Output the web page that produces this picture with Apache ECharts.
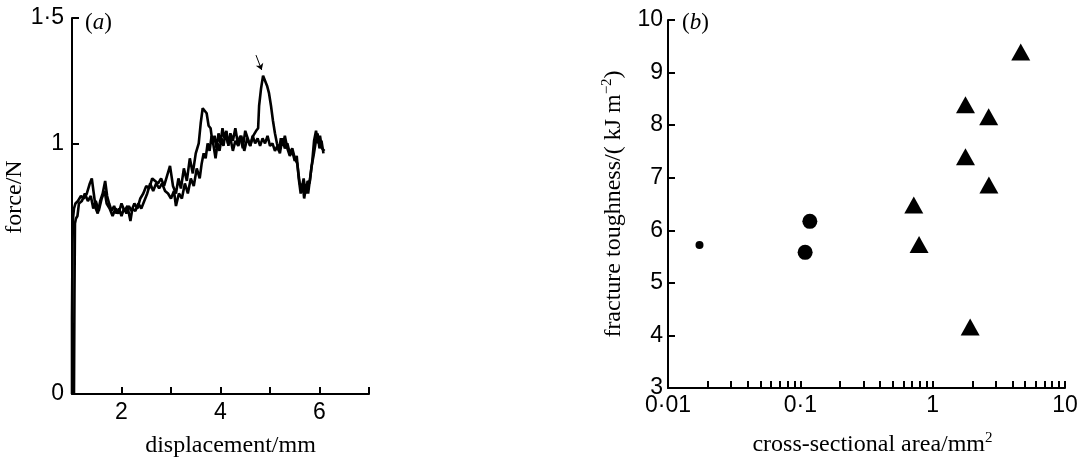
<!DOCTYPE html>
<html>
<head>
<meta charset="utf-8">
<script src="https://cdn.jsdelivr.net/npm/echarts@6/dist/echarts.min.js"></script>
<style>
html,body{margin:0;padding:0;background:#fff;}
#chart{width:1084px;height:464px;}
</style>
</head>
<body>
<div id="chart"></div>
<script>
// ---- Panel (a): force vs displacement, two test records ----
const curveA = [
 [1.00,0],[1.00,0.30],[1.01,0.60],[1.02,0.70],[1.04,0.74],[1.07,0.76],[1.12,0.77],[1.18,0.79],[1.24,0.78],[1.30,0.80],
 [1.36,0.84],[1.40,0.86],[1.44,0.80],[1.48,0.74],[1.52,0.72],[1.57,0.77],[1.62,0.80],[1.67,0.85],[1.71,0.79],[1.75,0.76],
 [1.80,0.73],[1.85,0.75],[1.90,0.72],[1.95,0.74],[2.00,0.71],[2.05,0.74],[2.10,0.72],[2.15,0.75],[2.20,0.73],[2.26,0.76],
 [2.32,0.74],[2.38,0.78],[2.44,0.80],[2.50,0.83],[2.56,0.82],[2.62,0.86],[2.68,0.85],[2.74,0.84],[2.80,0.86],[2.86,0.83],
 [2.92,0.87],[2.98,0.91],[3.04,0.83],[3.10,0.80],[3.15,0.86],[3.20,0.82],[3.26,0.90],[3.32,0.85],[3.38,0.94],[3.44,0.88],
 [3.50,0.96],[3.56,1.00],[3.60,1.08],[3.64,1.14],[3.68,1.13],[3.72,1.12],[3.76,1.07],[3.80,1.06],[3.84,1.00],[3.88,1.03],
 [3.92,0.98],[3.96,1.04],[4.00,1.00],[4.04,1.06],[4.08,1.02],[4.12,1.05],[4.16,0.99],[4.20,1.04],[4.25,1.01],[4.30,1.06],
 [4.35,1.00],[4.40,1.03],[4.45,0.98],[4.50,1.05],[4.55,1.02],[4.60,0.99],[4.65,1.03],[4.70,1.00],[4.75,1.02],[4.80,0.99],
 [4.85,1.02],[4.90,1.00],[4.95,1.03],[5.00,0.99],[5.05,1.00],[5.10,0.97],[5.15,0.99],[5.20,0.96],[5.25,1.02],[5.30,0.98],
 [5.35,1.00],[5.40,0.96],[5.45,0.98],[5.50,0.94],[5.55,0.92],[5.60,0.84],[5.64,0.82],[5.68,0.86],[5.72,0.80],[5.76,0.85],
 [5.80,0.84],[5.84,0.91],[5.88,0.95],[5.92,1.00],[5.96,1.04],[6.00,0.98],[6.04,1.01],[6.08,0.96]
];
const curveB = [
 [1.04,0],[1.05,0.40],[1.06,0.68],[1.08,0.70],[1.11,0.71],[1.14,0.76],[1.20,0.77],[1.26,0.80],[1.32,0.77],[1.38,0.79],
 [1.43,0.74],[1.48,0.77],[1.54,0.73],[1.60,0.78],[1.66,0.81],[1.70,0.76],[1.76,0.74],[1.82,0.71],[1.88,0.74],[1.94,0.72],
 [2.00,0.76],[2.06,0.73],[2.12,0.75],[2.18,0.69],[2.22,0.74],[2.28,0.73],[2.34,0.76],[2.40,0.74],[2.46,0.77],[2.52,0.80],
 [2.58,0.84],[2.64,0.81],[2.70,0.84],[2.76,0.82],[2.82,0.84],[2.88,0.81],[2.94,0.80],[3.00,0.78],[3.06,0.81],[3.10,0.75],
 [3.16,0.80],[3.22,0.78],[3.28,0.84],[3.34,0.80],[3.40,0.86],[3.46,0.83],[3.52,0.90],[3.58,0.86],[3.62,0.92],[3.66,0.96],
 [3.70,0.94],[3.74,1.00],[3.78,0.97],[3.82,1.03],[3.86,0.99],[3.90,0.94],[3.94,1.00],[3.98,0.97],[4.02,1.02],[4.06,0.99],
 [4.10,1.04],[4.15,1.00],[4.20,1.02],[4.25,0.97],[4.30,1.01],[4.36,0.99],[4.42,1.03],[4.48,0.97],[4.54,1.02],[4.60,0.99],
 [4.66,1.03],[4.72,1.05],[4.76,1.06],[4.78,1.15],[4.82,1.22],[4.86,1.27],[4.90,1.25],[4.94,1.23],[4.98,1.20],[5.02,1.15],
 [5.06,1.09],[5.10,1.04],[5.14,1.00],[5.18,0.97],[5.22,1.02],[5.26,0.99],[5.30,1.03],[5.35,0.98],[5.40,0.95],[5.45,0.97],
 [5.50,0.93],[5.54,0.95],[5.58,0.86],[5.62,0.80],[5.66,0.84],[5.69,0.78],[5.73,0.83],[5.77,0.80],[5.81,0.86],[5.85,0.92],
 [5.89,1.01],[5.93,1.05],[5.97,1.00],[6.01,1.03],[6.05,0.98],[6.10,0.97]
];
const peakArrowFrom = [4.717, 1.352];
const peakArrowTo = [4.832, 1.293];
const forceTickValues = [0, 1, 1.5];
const dispTickValues = [2, 3, 4, 5, 6, 7];
const dispLabelValues = [2, 4, 6];

// ---- Panel (b): fracture toughness vs cross-sectional area ----
const smallDot = [[0.0173, 5.72]];
const bigDots = [[0.118, 6.17], [0.1087, 5.58]];
const triangles = [
 [4.63, 9.39], [1.77, 8.39], [2.65, 8.16], [1.77, 7.40],
 [2.66, 6.86], [0.72, 6.48], [0.789, 5.73], [1.92, 4.16]
];
const areaTickLabels = ['0·01', '0·1', '1', '10'];

const SANS = 'Liberation Sans';
const SERIF = 'Liberation Serif';
const dot = v => String(v).replace('.', '·');

const axisLine = { show: true, onZero: false, lineStyle: { color: '#000', width: 2 } };
const tick = { show: true, inside: true, length: 7, lineStyle: { color: '#000', width: 2 } };
const panelRich = {
  p: { fontFamily: SERIF, fontSize: 23, fontWeight: 'normal', color: '#000' },
  i: { fontFamily: SERIF, fontSize: 23, fontWeight: 'normal', fontStyle: 'italic', color: '#000' }
};

const chart = echarts.init(document.getElementById('chart'), null, { renderer: 'canvas' });
chart.setOption({
  animation: false,
  backgroundColor: '#fff',
  title: [
    { left: 80, top: 6, text: '{p|(}{i|a}{p|)}', textStyle: { fontWeight: 'normal', rich: panelRich } },
    { left: 677, top: 6, text: '{p|(}{i|b}{p|)}', textStyle: { fontWeight: 'normal', rich: panelRich } }
  ],
  grid: [
    { left: 72, top: 18, width: 297, height: 376 },
    { left: 668, top: 20, width: 397, height: 373 }
  ],
  xAxis: [
    { gridIndex: 0, type: 'value', min: 1, max: 7, interval: 1,
      axisLine: axisLine,
      axisTick: Object.assign({}, tick, { customValues: dispTickValues }),
      axisLabel: { customValues: dispLabelValues, margin: 7, color: '#000', fontFamily: SANS, fontSize: 23 },
      splitLine: { show: false },
      name: 'displacement/mm', nameLocation: 'middle', nameGap: 40,
      nameTextStyle: { fontFamily: SERIF, fontSize: 24, color: '#000', padding: [0, 0, 0, 20] } },
    { gridIndex: 1, type: 'log', logBase: 10, min: 0.01, max: 10,
      axisLine: axisLine,
      axisTick: tick,
      minorTick: { show: true, splitNumber: 9, length: 7, lineStyle: { color: '#000', width: 2 } },
      axisLabel: { margin: 6, color: '#000', fontFamily: SANS, fontSize: 23,
        formatter: v => areaTickLabels[Math.round(Math.log10(v)) + 2] },
      splitLine: { show: false }, minorSplitLine: { show: false },
      name: 'cross-sectional area/mm{sup|2}', nameLocation: 'middle', nameGap: 43,
      nameTextStyle: { fontFamily: SERIF, fontSize: 24, color: '#000', lineHeight: 28, padding: [0, 0, 0, 12],
        rich: { sup: { fontFamily: SERIF, fontSize: 15, color: '#000', verticalAlign: 'top', lineHeight: 28 } } } }
  ],
  yAxis: [
    { gridIndex: 0, type: 'value', min: 0, max: 1.5, interval: 0.5,
      axisLine: axisLine,
      axisTick: Object.assign({}, tick, { customValues: forceTickValues }),
      axisLabel: { customValues: forceTickValues, margin: 8, color: '#000', fontFamily: SANS, fontSize: 23, formatter: dot },
      splitLine: { show: false },
      name: 'force/N', nameLocation: 'middle', nameGap: 44,
      nameTextStyle: { fontFamily: SERIF, fontSize: 24, color: '#000', padding: [0, 0, 0, 18] } },
    { gridIndex: 1, type: 'value', min: 3, max: 10, interval: 1,
      axisLine: axisLine,
      axisTick: tick,
      axisLabel: { margin: 5, color: '#000', fontFamily: SANS, fontSize: 23 },
      splitLine: { show: false },
      name: 'fracture toughness/( kJ m{sup|−2})', nameLocation: 'middle', nameGap: 40,
      nameTextStyle: { fontFamily: SERIF, fontSize: 24, color: '#000', lineHeight: 28,
        rich: { sup: { fontFamily: SERIF, fontSize: 15, color: '#000', verticalAlign: 'top', lineHeight: 28 } } } }
  ],
  series: [
    { type: 'line', xAxisIndex: 0, yAxisIndex: 0, data: curveA, showSymbol: false, symbol: 'none',
      lineStyle: { color: '#000', width: 2.6 } },
    { type: 'line', xAxisIndex: 0, yAxisIndex: 0, data: curveB, showSymbol: false, symbol: 'none',
      lineStyle: { color: '#000', width: 2.6 },
      markLine: { silent: true, symbol: ['none', 'arrow'], symbolSize: 6, label: { show: false },
        lineStyle: { color: '#000', width: 1, type: 'solid' },
        data: [[{ coord: peakArrowFrom }, { coord: peakArrowTo }]] } },
    { type: 'scatter', xAxisIndex: 1, yAxisIndex: 1, data: smallDot, symbol: 'circle', symbolSize: 8,
      itemStyle: { color: '#000', opacity: 1 } },
    { type: 'scatter', xAxisIndex: 1, yAxisIndex: 1, data: bigDots, symbol: 'circle', symbolSize: 15,
      itemStyle: { color: '#000', opacity: 1 } },
    { type: 'scatter', xAxisIndex: 1, yAxisIndex: 1, data: triangles, symbol: 'triangle', symbolSize: [19, 17],
      itemStyle: { color: '#000', opacity: 1 } }
  ]
});
</script>
</body>
</html>
